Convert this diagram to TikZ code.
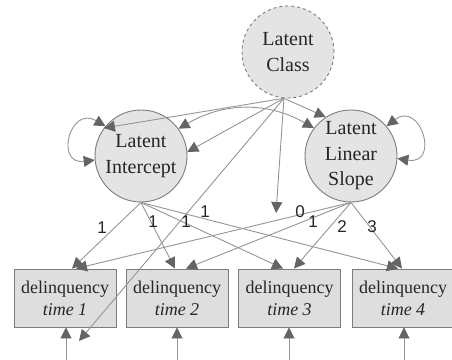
\documentclass[tikz,border=0pt]{standalone}
\usepackage{fontspec}
\setmainfont{Liberation Serif}
\newfontfamily\numfont{Liberation Sans}
\usetikzlibrary{arrows.meta,calc}
\definecolor{linec}{HTML}{959595}
\definecolor{tipc}{HTML}{646464}
\definecolor{circfill}{HTML}{E4E4E4}
\definecolor{circdraw}{HTML}{7C7C7C}
\definecolor{boxfill}{HTML}{DEDEDE}
\definecolor{txt}{HTML}{262626}
\begin{document}
\begin{tikzpicture}[x=1pt,y=-1pt,
  lat/.style={circle, minimum size=92pt, inner sep=0pt, fill=circfill, draw=circdraw, line width=0.9pt,
    align=center, text=txt, font=\fontsize{20}{25.5}\selectfont},
  obs/.style={rectangle, minimum width=102pt, minimum height=58pt, inner sep=0pt, fill=boxfill, draw=circdraw,
    line width=0.9pt, align=center, text=txt, font=\fontsize{18}{22}\selectfont},
  arr/.style={draw=linec, line width=0.9pt, -{Triangle[length=11pt,width=11pt,color=tipc]}},
  darr/.style={draw=linec, line width=0.9pt, {Triangle[length=11pt,width=11pt,color=tipc]}-{Triangle[length=11pt,width=11pt,color=tipc]}},
  lab/.style={text=txt, inner sep=0pt, font=\numfont\fontsize{17}{17}\selectfont}]
\useasboundingbox (0,0) rectangle (452,359);
\fill[white] (0,0) rectangle (452,359);

\node[lat, dashed] (C) at (288,52) {Latent\\Class};
\node[lat] (I) at (141,156) {Latent\\Intercept};
\node[lat] (S) at (351,156) {Latent\\Linear\\Slope};

\node[obs] (b1) at (65,298) {delinquency\\\textit{time 1}};
\node[obs] (b2) at (177,298) {delinquency\\\textit{time 2}};
\node[obs] (b3) at (289.5,298) {delinquency\\\textit{time 3}};
\node[obs] (b4) at (403,298) {delinquency\\\textit{time 4}};

% self loops
\draw[darr] (I.140) .. controls +(-36,-21) and +(-40,5) .. (I.185);
\draw[darr] (S.40) .. controls +(34,-26) and +(43,7) .. (S.-3);

% intercept-slope covariance
\draw[darr] (I.36) to[bend left=30] (S.143);

% latent class paths
\coordinate (v) at (276,213);
\coordinate (e) at (79,341);
\draw[arr] (C.-95) -- (I.143);
\draw[arr] (C.-95) -- (I.5);
\draw[arr] (C.-95) -- (S.123);
\draw[arr] (C.-95) -- (v);
\draw[arr] (C.-95) -- (e);

% loadings
\draw[arr] (I.-90) -- ($(b1.north)+(7,0)$);
\draw[arr] (I.-90) -- ($(b2.north)+(-2,0)$);
\draw[arr] (I.-90) -- ($(b3.north)+(-6.5,0)$);
\draw[arr] (I.-90) -- ($(b4.north)+(-5,0)$);
\draw[arr] (S.-90) -- ($(b1.north)+(11,0)$);
\draw[arr] (S.-90) -- ($(b2.north)+(9,0)$);
\draw[arr] (S.-90) -- ($(b3.north)+(4.5,0)$);
\draw[arr] (S.-90) -- ($(b4.north)+(-1,0)$);

\node[lab] (l1) at (102,228) {1};
\node[lab] (l2) at (153,222) {1};
\node[lab] (l3) at (186,222) {1};
\node[lab] (l4) at (205,212) {1};
\node[lab] (l5) at (300,212) {0};
\node[lab] (l6) at (313,222) {1};
\node[lab] (l7) at (342,227) {2};
\node[lab] (l8) at (372,227) {3};

% residuals
\coordinate (r1) at (66,365);
\coordinate (r2) at (177,365);
\coordinate (r3) at (289,365);
\coordinate (r4) at (404,365);
\draw[arr] (r1) -- (r1 |- b1.south);
\draw[arr] (r2) -- (r2 |- b2.south);
\draw[arr] (r3) -- (r3 |- b3.south);
\draw[arr] (r4) -- (r4 |- b4.south);
\end{tikzpicture}
\end{document}
